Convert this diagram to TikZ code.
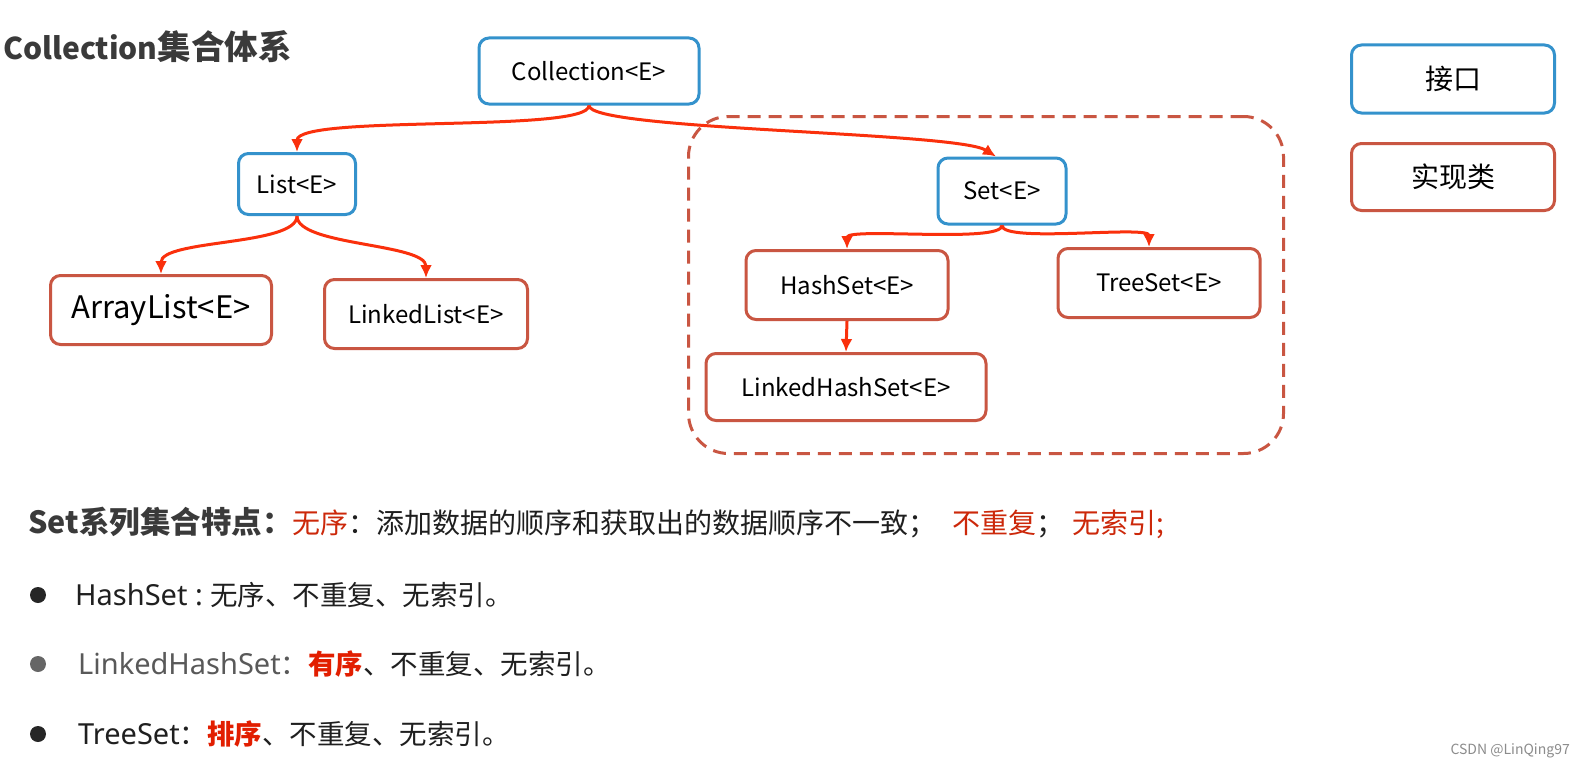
\documentclass[tikz,border=0pt]{standalone}
\usepackage{fontspec}
\setmainfont{Noto Sans CJK SC}
\newfontfamily\latinfont{Noto Sans}
\usetikzlibrary{arrows.meta,positioning,backgrounds}
\definecolor{ifaceblue}{RGB}{52,146,204}
\definecolor{implred}{RGB}{201,86,66}
\definecolor{linkred}{RGB}{250,48,12}
\definecolor{headgray}{RGB}{58,58,58}
\definecolor{notered}{RGB}{204,40,10}
\definecolor{keyred}{RGB}{226,30,0}
\newcommand{\pxsize}[1]{\fontsize{#1pt}{#1pt}\selectfont}

\begin{document}
\begin{tikzpicture}[
    x=1pt, y=-1pt,
    >={Latex[length=13pt,width=12pt]},
    link/.style={->, line width=3pt, draw=linkred},
    iface/.style={draw=ifaceblue, line width=3pt, rounded corners=10pt, fill=white,
        inner sep=0pt, font=\pxsize{24}},
    impl/.style={draw=implred, line width=3pt, rounded corners=10pt, fill=white,
        inner sep=0pt, font=\pxsize{24}},
    setgroup/.style={draw=implred, dash pattern=on 13pt off 8pt, line width=3pt,
        rounded corners=40pt},
    note/.style={anchor=west, inner sep=0pt, text=black!88, font=\pxsize{28}},
    bulletdot/.style={circle, fill=#1, minimum size=16pt, inner sep=0pt}
]

% Title
\node[font=\pxsize{30}\bfseries, text=headgray, anchor=west, inner sep=0pt] (title) at (3,47) {Collection{\pxsize{33.5}集合体系}};

% Hierarchy
\node[iface, minimum width=220pt, minimum height=66pt] (collection) at (589,71) {Collection<E>};

\node[iface, minimum width=117pt, minimum height=61pt] (list) at (297,184) {List<E>};
\node[impl, minimum width=221pt, minimum height=69pt, font=\pxsize{31}] (arraylist) at (161,310) {ArrayList<E>};
\node[impl, minimum width=203pt, minimum height=69pt] (linkedlist) at (426,314) {LinkedList<E>};

\node[iface, minimum width=128pt, minimum height=66pt] (set) at (1002,191) {Set<E>};
\node[impl, minimum width=202pt, minimum height=69pt] (hashset) at (847,285) {HashSet<E>};
\node[impl, minimum width=202pt, minimum height=69pt] (treeset) at (1159,283) {TreeSet<E>};
\node[impl, minimum width=280pt, minimum height=67pt] (linkedhashset) at (846,387) {LinkedHashSet<E>};

% Legend
\node[iface, minimum width=203pt, minimum height=68pt, font=\pxsize{28}] (ifacekey) at (1453,79) {接口};
\node[impl, minimum width=203pt, minimum height=67pt, font=\pxsize{28}] (implkey) at (1453,177) {实现类};

% Arrows
\draw[link] (collection.south) .. controls +(0,28) and +(0,-38) .. (list.north);
\draw[link] (collection.south) .. controls +(0,25) and +(-40,-25) .. ([xshift=-6pt]set.north);

\draw[link] (list.south) .. controls +(0,30) and +(0,-35) .. (arraylist.north);
\draw[link] (list.south) .. controls +(0,30) and +(0,-35) .. (linkedlist.north);

\draw[link] (set.south) .. controls +(0,18) and +(0,-22) .. (hashset.north);
\draw[link] (set.south) .. controls +(0,18) and +(0,-22) .. ([xshift=-10pt]treeset.north);
\draw[link] (hashset.south) -- (linkedhashset.north);

% Set features
\node[note] (setfeat) at (28,523) {{\pxsize{30.5}\bfseries\color{headgray}Set系列集合特点：}{\color{notered}无序}：添加数据的顺序和获取出的数据顺序不一致；\hspace{16pt}{\color{notered}不重复}；\hspace{8pt}{\color{notered}无索引;}};

\node[bulletdot=black!85] (dotone) at (38,595) {};
\node[note, font=\pxsize{27.5}] (hashnote) at (75,595) {{\latinfont\pxsize{29}HashSet :\ }无序、不重复、无索引。};
\node[bulletdot=black!60] (dottwo) at (38,664) {};
\node[note, font=\pxsize{27.5}] (lhsnote) at (78,664) {{\color{black!65}{\latinfont\pxsize{29}LinkedHashSet}：}{\bfseries\color{keyred}有序}、不重复、无索引。};
\node[bulletdot=black!85] (dotthree) at (38,734) {};
\node[note, font=\pxsize{27.5}] (treenote) at (78,734) {{\latinfont\pxsize{29}TreeSet}：{\bfseries\color{keyred}排序}、不重复、无索引。};

\node[anchor=east, inner sep=0pt, font=\pxsize{14}, text=black!45] (mark) at (1570,751) {CSDN @LinQing97};

\begin{pgfonlayer}{background}
\fill[white] (0,0) rectangle (1582,768);
\node[setgroup, minimum width=595pt, minimum height=337pt] (setfit) at (986,285) {};
\end{pgfonlayer}
\useasboundingbox (0,0) rectangle (1582,768);

\end{tikzpicture}
\end{document}
